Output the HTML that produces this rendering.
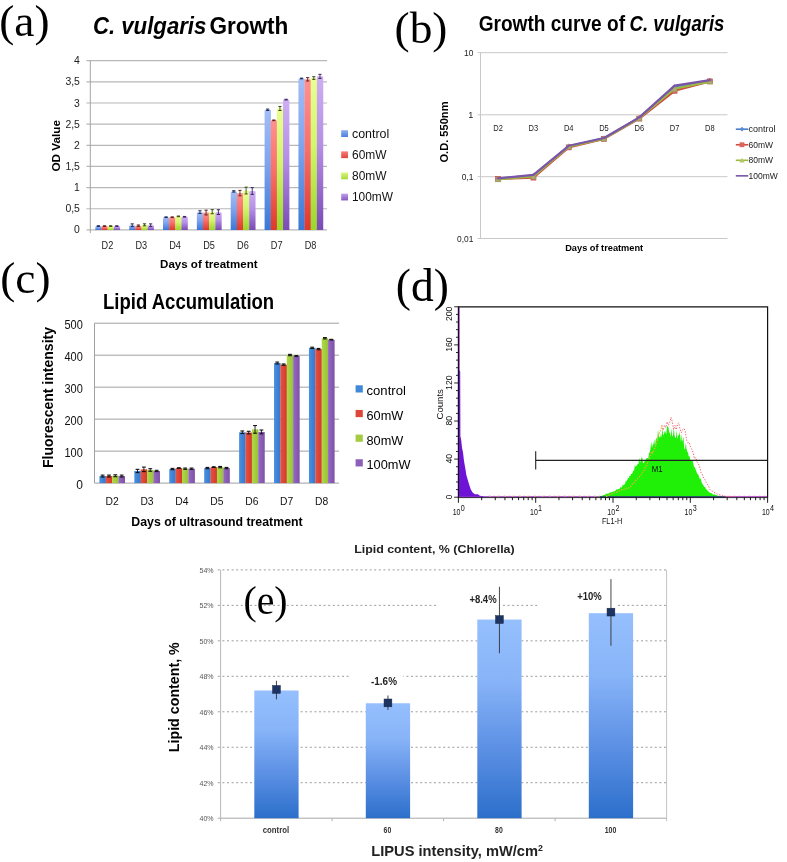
<!DOCTYPE html>
<html><head><meta charset="utf-8"><title>Figure</title>
<style>
html,body{margin:0;padding:0;background:#fff;}
body{width:787px;height:862px;overflow:hidden;font-family:"Liberation Sans", sans-serif;}
svg{display:block;font-family:"Liberation Sans", sans-serif;filter:blur(0.45px);}
.sf{font-family:"Liberation Serif",serif;}
</style></head><body>
<svg width="787" height="862" viewBox="0 0 787 862">
<defs>
<linearGradient id="aB" x1="0" y1="0" x2="0" y2="1"><stop offset="0" stop-color="#a3bdf6"/><stop offset="0.45" stop-color="#7fa4ee"/><stop offset="1" stop-color="#3a78d6"/></linearGradient>
<linearGradient id="aR" x1="0" y1="0" x2="0" y2="1"><stop offset="0" stop-color="#ff9190"/><stop offset="0.45" stop-color="#f9706b"/><stop offset="1" stop-color="#df382c"/></linearGradient>
<linearGradient id="aG" x1="0" y1="0" x2="0" y2="1"><stop offset="0" stop-color="#e9ff92"/><stop offset="0.45" stop-color="#d3f56c"/><stop offset="1" stop-color="#9bd62c"/></linearGradient>
<linearGradient id="aP" x1="0" y1="0" x2="0" y2="1"><stop offset="0" stop-color="#cdaef3"/><stop offset="0.45" stop-color="#b58fe6"/><stop offset="1" stop-color="#7a4bb4"/></linearGradient>
<linearGradient id="cB" x1="0" y1="0" x2="1" y2="0"><stop offset="0" stop-color="#4a90e0"/><stop offset="1" stop-color="#3577cc"/></linearGradient>
<linearGradient id="cR" x1="0" y1="0" x2="1" y2="0"><stop offset="0" stop-color="#e8503f"/><stop offset="1" stop-color="#d23a2c"/></linearGradient>
<linearGradient id="cG" x1="0" y1="0" x2="1" y2="0"><stop offset="0" stop-color="#b0d84a"/><stop offset="1" stop-color="#98c236"/></linearGradient>
<linearGradient id="cP" x1="0" y1="0" x2="1" y2="0"><stop offset="0" stop-color="#9668c2"/><stop offset="1" stop-color="#7e52a8"/></linearGradient>
<linearGradient id="eB" x1="0" y1="0" x2="0" y2="1"><stop offset="0" stop-color="#95bffd"/><stop offset="0.3" stop-color="#88b4f8"/><stop offset="0.62" stop-color="#6093e6"/><stop offset="1" stop-color="#2c6fcb"/></linearGradient>
</defs>
<rect width="787" height="862" fill="#fff"/>

<line x1="86.40" y1="229.90" x2="327.00" y2="229.90" stroke="#b8b8b8" stroke-width="1.2"/>
<text x="79.9" y="233.4" font-size="10.4" fill="#222" text-anchor="end">0</text>
<line x1="86.40" y1="208.75" x2="327.00" y2="208.75" stroke="#b8b8b8" stroke-width="1.2"/>
<text x="79.9" y="212.2" font-size="10.4" fill="#222" text-anchor="end" textLength="14.5" lengthAdjust="spacingAndGlyphs">0,5</text>
<line x1="86.40" y1="187.60" x2="327.00" y2="187.60" stroke="#b8b8b8" stroke-width="1.2"/>
<text x="79.9" y="191.1" font-size="10.4" fill="#222" text-anchor="end">1</text>
<line x1="86.40" y1="166.45" x2="327.00" y2="166.45" stroke="#b8b8b8" stroke-width="1.2"/>
<text x="79.9" y="170.0" font-size="10.4" fill="#222" text-anchor="end" textLength="14.5" lengthAdjust="spacingAndGlyphs">1,5</text>
<line x1="86.40" y1="145.30" x2="327.00" y2="145.30" stroke="#b8b8b8" stroke-width="1.2"/>
<text x="79.9" y="148.8" font-size="10.4" fill="#222" text-anchor="end">2</text>
<line x1="86.40" y1="124.15" x2="327.00" y2="124.15" stroke="#b8b8b8" stroke-width="1.2"/>
<text x="79.9" y="127.7" font-size="10.4" fill="#222" text-anchor="end" textLength="14.5" lengthAdjust="spacingAndGlyphs">2,5</text>
<line x1="86.40" y1="103.00" x2="327.00" y2="103.00" stroke="#b8b8b8" stroke-width="1.2"/>
<text x="79.9" y="106.5" font-size="10.4" fill="#222" text-anchor="end">3</text>
<line x1="86.40" y1="81.85" x2="327.00" y2="81.85" stroke="#b8b8b8" stroke-width="1.2"/>
<text x="79.9" y="85.4" font-size="10.4" fill="#222" text-anchor="end" textLength="14.5" lengthAdjust="spacingAndGlyphs">3,5</text>
<line x1="86.40" y1="60.70" x2="327.00" y2="60.70" stroke="#b8b8b8" stroke-width="1.2"/>
<text x="79.9" y="64.2" font-size="10.4" fill="#222" text-anchor="end">4</text>
<line x1="90.30" y1="60.70" x2="90.30" y2="233.10" stroke="#a4a4a4" stroke-width="1.0"/>
<path d="M95.30,229.90 V227.39 Q95.30,226.09 96.60,226.09 H100.35 Q101.65,226.09 101.65,227.39 V229.90 Z" fill="url(#aB)"/>
<path d="M101.45,229.90 V227.39 Q101.45,226.09 102.75,226.09 H106.50 Q107.80,226.09 107.80,227.39 V229.90 Z" fill="url(#aR)"/>
<path d="M107.60,229.90 V227.39 Q107.60,226.09 108.90,226.09 H112.65 Q113.95,226.09 113.95,227.39 V229.90 Z" fill="url(#aG)"/>
<path d="M113.75,229.90 V227.39 Q113.75,226.09 115.05,226.09 H118.80 Q120.10,226.09 120.10,227.39 V229.90 Z" fill="url(#aP)"/>
<line x1="98.38" y1="225.75" x2="98.38" y2="226.43" stroke="#1a2a58" stroke-width="0.9"/>
<line x1="96.78" y1="225.75" x2="99.97" y2="225.75" stroke="#1a2a58" stroke-width="1.0"/>
<line x1="96.78" y1="226.43" x2="99.97" y2="226.43" stroke="#1a2a58" stroke-width="1.0"/>
<line x1="104.53" y1="225.75" x2="104.53" y2="226.43" stroke="#64201a" stroke-width="0.9"/>
<line x1="102.93" y1="225.75" x2="106.12" y2="225.75" stroke="#64201a" stroke-width="1.0"/>
<line x1="102.93" y1="226.43" x2="106.12" y2="226.43" stroke="#64201a" stroke-width="1.0"/>
<line x1="110.67" y1="225.75" x2="110.67" y2="226.43" stroke="#3a4a16" stroke-width="0.9"/>
<line x1="109.08" y1="225.75" x2="112.27" y2="225.75" stroke="#3a4a16" stroke-width="1.0"/>
<line x1="109.08" y1="226.43" x2="112.27" y2="226.43" stroke="#3a4a16" stroke-width="1.0"/>
<line x1="116.83" y1="225.75" x2="116.83" y2="226.43" stroke="#3a2460" stroke-width="0.9"/>
<line x1="115.23" y1="225.75" x2="118.42" y2="225.75" stroke="#3a2460" stroke-width="1.0"/>
<line x1="115.23" y1="226.43" x2="118.42" y2="226.43" stroke="#3a2460" stroke-width="1.0"/>
<text x="107.4" y="249.2" font-size="10.68" fill="#222" text-anchor="middle" textLength="11.7" lengthAdjust="spacingAndGlyphs">D2</text>
<path d="M129.16,229.90 V226.55 Q129.16,225.25 130.46,225.25 H134.21 Q135.51,225.25 135.51,226.55 V229.90 Z" fill="url(#aB)"/>
<path d="M135.31,229.90 V226.97 Q135.31,225.67 136.61,225.67 H140.36 Q141.66,225.67 141.66,226.97 V229.90 Z" fill="url(#aR)"/>
<path d="M141.46,229.90 V226.12 Q141.46,224.82 142.76,224.82 H146.51 Q147.81,224.82 147.81,226.12 V229.90 Z" fill="url(#aG)"/>
<path d="M147.61,229.90 V226.55 Q147.61,225.25 148.91,225.25 H152.66 Q153.96,225.25 153.96,226.55 V229.90 Z" fill="url(#aP)"/>
<line x1="132.23" y1="223.89" x2="132.23" y2="226.60" stroke="#1a2a58" stroke-width="0.9"/>
<line x1="130.63" y1="223.89" x2="133.83" y2="223.89" stroke="#1a2a58" stroke-width="1.0"/>
<line x1="130.63" y1="226.60" x2="133.83" y2="226.60" stroke="#1a2a58" stroke-width="1.0"/>
<line x1="138.38" y1="224.99" x2="138.38" y2="226.35" stroke="#64201a" stroke-width="0.9"/>
<line x1="136.78" y1="224.99" x2="139.98" y2="224.99" stroke="#64201a" stroke-width="1.0"/>
<line x1="136.78" y1="226.35" x2="139.98" y2="226.35" stroke="#64201a" stroke-width="1.0"/>
<line x1="144.53" y1="223.81" x2="144.53" y2="225.84" stroke="#3a4a16" stroke-width="0.9"/>
<line x1="142.93" y1="223.81" x2="146.13" y2="223.81" stroke="#3a4a16" stroke-width="1.0"/>
<line x1="142.93" y1="225.84" x2="146.13" y2="225.84" stroke="#3a4a16" stroke-width="1.0"/>
<line x1="150.68" y1="223.89" x2="150.68" y2="226.60" stroke="#3a2460" stroke-width="0.9"/>
<line x1="149.08" y1="223.89" x2="152.28" y2="223.89" stroke="#3a2460" stroke-width="1.0"/>
<line x1="149.08" y1="226.60" x2="152.28" y2="226.60" stroke="#3a2460" stroke-width="1.0"/>
<text x="141.3" y="249.2" font-size="10.68" fill="#222" text-anchor="middle" textLength="11.7" lengthAdjust="spacingAndGlyphs">D3</text>
<path d="M163.01,229.90 V218.51 Q163.01,217.21 164.31,217.21 H168.06 Q169.36,217.21 169.36,218.51 V229.90 Z" fill="url(#aB)"/>
<path d="M169.16,229.90 V218.51 Q169.16,217.21 170.46,217.21 H174.21 Q175.51,217.21 175.51,218.51 V229.90 Z" fill="url(#aR)"/>
<path d="M175.31,229.90 V217.66 Q175.31,216.36 176.61,216.36 H180.36 Q181.66,216.36 181.66,217.66 V229.90 Z" fill="url(#aG)"/>
<path d="M181.46,229.90 V218.09 Q181.46,216.79 182.76,216.79 H186.51 Q187.81,216.79 187.81,218.09 V229.90 Z" fill="url(#aP)"/>
<line x1="166.09" y1="216.87" x2="166.09" y2="217.55" stroke="#1a2a58" stroke-width="0.9"/>
<line x1="164.49" y1="216.87" x2="167.69" y2="216.87" stroke="#1a2a58" stroke-width="1.0"/>
<line x1="164.49" y1="217.55" x2="167.69" y2="217.55" stroke="#1a2a58" stroke-width="1.0"/>
<line x1="172.24" y1="216.87" x2="172.24" y2="217.55" stroke="#64201a" stroke-width="0.9"/>
<line x1="170.64" y1="216.87" x2="173.84" y2="216.87" stroke="#64201a" stroke-width="1.0"/>
<line x1="170.64" y1="217.55" x2="173.84" y2="217.55" stroke="#64201a" stroke-width="1.0"/>
<line x1="178.39" y1="216.03" x2="178.39" y2="216.70" stroke="#3a4a16" stroke-width="0.9"/>
<line x1="176.79" y1="216.03" x2="179.99" y2="216.03" stroke="#3a4a16" stroke-width="1.0"/>
<line x1="176.79" y1="216.70" x2="179.99" y2="216.70" stroke="#3a4a16" stroke-width="1.0"/>
<line x1="184.54" y1="216.45" x2="184.54" y2="217.13" stroke="#3a2460" stroke-width="0.9"/>
<line x1="182.94" y1="216.45" x2="186.14" y2="216.45" stroke="#3a2460" stroke-width="1.0"/>
<line x1="182.94" y1="217.13" x2="186.14" y2="217.13" stroke="#3a2460" stroke-width="1.0"/>
<text x="175.1" y="249.2" font-size="10.68" fill="#222" text-anchor="middle" textLength="11.7" lengthAdjust="spacingAndGlyphs">D4</text>
<path d="M196.87,229.90 V213.43 Q196.87,212.13 198.17,212.13 H201.92 Q203.22,212.13 203.22,213.43 V229.90 Z" fill="url(#aB)"/>
<path d="M203.02,229.90 V213.86 Q203.02,212.56 204.32,212.56 H208.07 Q209.37,212.56 209.37,213.86 V229.90 Z" fill="url(#aR)"/>
<path d="M209.17,229.90 V213.01 Q209.17,211.71 210.47,211.71 H214.22 Q215.52,211.71 215.52,213.01 V229.90 Z" fill="url(#aG)"/>
<path d="M215.32,229.90 V213.43 Q215.32,212.13 216.62,212.13 H220.37 Q221.67,212.13 221.67,213.43 V229.90 Z" fill="url(#aP)"/>
<line x1="199.95" y1="210.78" x2="199.95" y2="213.49" stroke="#1a2a58" stroke-width="0.9"/>
<line x1="198.35" y1="210.78" x2="201.55" y2="210.78" stroke="#1a2a58" stroke-width="1.0"/>
<line x1="198.35" y1="213.49" x2="201.55" y2="213.49" stroke="#1a2a58" stroke-width="1.0"/>
<line x1="206.10" y1="210.19" x2="206.10" y2="214.93" stroke="#64201a" stroke-width="0.9"/>
<line x1="204.50" y1="210.19" x2="207.70" y2="210.19" stroke="#64201a" stroke-width="1.0"/>
<line x1="204.50" y1="214.93" x2="207.70" y2="214.93" stroke="#64201a" stroke-width="1.0"/>
<line x1="212.25" y1="209.68" x2="212.25" y2="213.74" stroke="#3a4a16" stroke-width="0.9"/>
<line x1="210.65" y1="209.68" x2="213.85" y2="209.68" stroke="#3a4a16" stroke-width="1.0"/>
<line x1="210.65" y1="213.74" x2="213.85" y2="213.74" stroke="#3a4a16" stroke-width="1.0"/>
<line x1="218.40" y1="209.77" x2="218.40" y2="214.50" stroke="#3a2460" stroke-width="0.9"/>
<line x1="216.80" y1="209.77" x2="220.00" y2="209.77" stroke="#3a2460" stroke-width="1.0"/>
<line x1="216.80" y1="214.50" x2="220.00" y2="214.50" stroke="#3a2460" stroke-width="1.0"/>
<text x="209.0" y="249.2" font-size="10.68" fill="#222" text-anchor="middle" textLength="11.7" lengthAdjust="spacingAndGlyphs">D5</text>
<path d="M230.73,229.90 V192.71 Q230.73,191.41 232.03,191.41 H235.78 Q237.08,191.41 237.08,192.71 V229.90 Z" fill="url(#aB)"/>
<path d="M236.88,229.90 V194.40 Q236.88,193.10 238.18,193.10 H241.93 Q243.23,193.10 243.23,194.40 V229.90 Z" fill="url(#aR)"/>
<path d="M243.03,229.90 V191.86 Q243.03,190.56 244.33,190.56 H248.08 Q249.38,190.56 249.38,191.86 V229.90 Z" fill="url(#aG)"/>
<path d="M249.18,229.90 V192.28 Q249.18,190.98 250.48,190.98 H254.23 Q255.53,190.98 255.53,192.28 V229.90 Z" fill="url(#aP)"/>
<line x1="233.80" y1="190.73" x2="233.80" y2="192.08" stroke="#1a2a58" stroke-width="0.9"/>
<line x1="232.20" y1="190.73" x2="235.40" y2="190.73" stroke="#1a2a58" stroke-width="1.0"/>
<line x1="232.20" y1="192.08" x2="235.40" y2="192.08" stroke="#1a2a58" stroke-width="1.0"/>
<line x1="239.95" y1="190.39" x2="239.95" y2="195.81" stroke="#64201a" stroke-width="0.9"/>
<line x1="238.35" y1="190.39" x2="241.55" y2="190.39" stroke="#64201a" stroke-width="1.0"/>
<line x1="238.35" y1="195.81" x2="241.55" y2="195.81" stroke="#64201a" stroke-width="1.0"/>
<line x1="246.10" y1="187.18" x2="246.10" y2="193.94" stroke="#3a4a16" stroke-width="0.9"/>
<line x1="244.50" y1="187.18" x2="247.70" y2="187.18" stroke="#3a4a16" stroke-width="1.0"/>
<line x1="244.50" y1="193.94" x2="247.70" y2="193.94" stroke="#3a4a16" stroke-width="1.0"/>
<line x1="252.25" y1="187.60" x2="252.25" y2="194.37" stroke="#3a2460" stroke-width="0.9"/>
<line x1="250.65" y1="187.60" x2="253.85" y2="187.60" stroke="#3a2460" stroke-width="1.0"/>
<line x1="250.65" y1="194.37" x2="253.85" y2="194.37" stroke="#3a2460" stroke-width="1.0"/>
<text x="242.9" y="249.2" font-size="10.68" fill="#222" text-anchor="middle" textLength="11.7" lengthAdjust="spacingAndGlyphs">D6</text>
<path d="M264.59,229.90 V111.07 Q264.59,109.77 265.89,109.77 H269.64 Q270.94,109.77 270.94,111.07 V229.90 Z" fill="url(#aB)"/>
<path d="M270.74,229.90 V121.64 Q270.74,120.34 272.04,120.34 H275.79 Q277.09,120.34 277.09,121.64 V229.90 Z" fill="url(#aR)"/>
<path d="M276.89,229.90 V109.80 Q276.89,108.50 278.19,108.50 H281.94 Q283.24,108.50 283.24,109.80 V229.90 Z" fill="url(#aG)"/>
<path d="M283.04,229.90 V100.92 Q283.04,99.62 284.34,99.62 H288.09 Q289.39,99.62 289.39,100.92 V229.90 Z" fill="url(#aP)"/>
<line x1="267.66" y1="109.09" x2="267.66" y2="110.44" stroke="#1a2a58" stroke-width="0.9"/>
<line x1="266.06" y1="109.09" x2="269.26" y2="109.09" stroke="#1a2a58" stroke-width="1.0"/>
<line x1="266.06" y1="110.44" x2="269.26" y2="110.44" stroke="#1a2a58" stroke-width="1.0"/>
<line x1="273.81" y1="120.00" x2="273.81" y2="120.68" stroke="#64201a" stroke-width="0.9"/>
<line x1="272.21" y1="120.00" x2="275.41" y2="120.00" stroke="#64201a" stroke-width="1.0"/>
<line x1="272.21" y1="120.68" x2="275.41" y2="120.68" stroke="#64201a" stroke-width="1.0"/>
<line x1="279.96" y1="106.47" x2="279.96" y2="110.53" stroke="#3a4a16" stroke-width="0.9"/>
<line x1="278.36" y1="106.47" x2="281.56" y2="106.47" stroke="#3a4a16" stroke-width="1.0"/>
<line x1="278.36" y1="110.53" x2="281.56" y2="110.53" stroke="#3a4a16" stroke-width="1.0"/>
<line x1="286.11" y1="99.28" x2="286.11" y2="99.95" stroke="#3a2460" stroke-width="0.9"/>
<line x1="284.51" y1="99.28" x2="287.71" y2="99.28" stroke="#3a2460" stroke-width="1.0"/>
<line x1="284.51" y1="99.95" x2="287.71" y2="99.95" stroke="#3a2460" stroke-width="1.0"/>
<text x="276.7" y="249.2" font-size="10.68" fill="#222" text-anchor="middle" textLength="11.7" lengthAdjust="spacingAndGlyphs">D7</text>
<path d="M298.44,229.90 V79.77 Q298.44,78.47 299.74,78.47 H303.49 Q304.79,78.47 304.79,79.77 V229.90 Z" fill="url(#aB)"/>
<path d="M304.59,229.90 V80.61 Q304.59,79.31 305.89,79.31 H309.64 Q310.94,79.31 310.94,80.61 V229.90 Z" fill="url(#aR)"/>
<path d="M310.74,229.90 V79.34 Q310.74,78.04 312.04,78.04 H315.79 Q317.09,78.04 317.09,79.34 V229.90 Z" fill="url(#aG)"/>
<path d="M316.89,229.90 V77.65 Q316.89,76.35 318.19,76.35 H321.94 Q323.24,76.35 323.24,77.65 V229.90 Z" fill="url(#aP)"/>
<line x1="301.52" y1="78.13" x2="301.52" y2="78.80" stroke="#1a2a58" stroke-width="0.9"/>
<line x1="299.92" y1="78.13" x2="303.12" y2="78.13" stroke="#1a2a58" stroke-width="1.0"/>
<line x1="299.92" y1="78.80" x2="303.12" y2="78.80" stroke="#1a2a58" stroke-width="1.0"/>
<line x1="307.67" y1="77.62" x2="307.67" y2="81.00" stroke="#64201a" stroke-width="0.9"/>
<line x1="306.07" y1="77.62" x2="309.27" y2="77.62" stroke="#64201a" stroke-width="1.0"/>
<line x1="306.07" y1="81.00" x2="309.27" y2="81.00" stroke="#64201a" stroke-width="1.0"/>
<line x1="313.82" y1="76.69" x2="313.82" y2="79.40" stroke="#3a4a16" stroke-width="0.9"/>
<line x1="312.22" y1="76.69" x2="315.42" y2="76.69" stroke="#3a4a16" stroke-width="1.0"/>
<line x1="312.22" y1="79.40" x2="315.42" y2="79.40" stroke="#3a4a16" stroke-width="1.0"/>
<line x1="319.97" y1="74.32" x2="319.97" y2="78.38" stroke="#3a2460" stroke-width="0.9"/>
<line x1="318.37" y1="74.32" x2="321.57" y2="74.32" stroke="#3a2460" stroke-width="1.0"/>
<line x1="318.37" y1="78.38" x2="321.57" y2="78.38" stroke="#3a2460" stroke-width="1.0"/>
<text x="310.6" y="249.2" font-size="10.68" fill="#222" text-anchor="middle" textLength="11.7" lengthAdjust="spacingAndGlyphs">D8</text>
<text x="60.2" y="145.8" font-size="11.77" fill="#000" font-weight="bold" text-anchor="middle" textLength="51.5" lengthAdjust="spacingAndGlyphs" transform="rotate(-90 60.2 145.8)">OD Value</text>
<text x="208.8" y="267.9" font-size="11.45" fill="#000" font-weight="bold" text-anchor="middle" textLength="97.5" lengthAdjust="spacingAndGlyphs">Days of treatment</text>
<linearGradient id="al0" x1="0" y1="0" x2="0" y2="1"><stop offset="0" stop-color="#8fb0f2"/><stop offset="1" stop-color="#4a80d8"/></linearGradient>
<rect x="341.20" y="130.20" width="6.80" height="6.80" fill="url(#al0)"/>
<text x="352.0" y="137.6" font-size="12.54" fill="#111" textLength="37.3" lengthAdjust="spacingAndGlyphs">control</text>
<linearGradient id="al1" x1="0" y1="0" x2="0" y2="1"><stop offset="0" stop-color="#fb7f7b"/><stop offset="1" stop-color="#e0443a"/></linearGradient>
<rect x="341.20" y="151.35" width="6.80" height="6.80" fill="url(#al1)"/>
<text x="352.0" y="158.8" font-size="12.54" fill="#111" textLength="34.5" lengthAdjust="spacingAndGlyphs">60mW</text>
<linearGradient id="al2" x1="0" y1="0" x2="0" y2="1"><stop offset="0" stop-color="#dcf77e"/><stop offset="1" stop-color="#a6d83c"/></linearGradient>
<rect x="341.20" y="172.50" width="6.80" height="6.80" fill="url(#al2)"/>
<text x="352.0" y="179.9" font-size="12.54" fill="#111" textLength="34.5" lengthAdjust="spacingAndGlyphs">80mW</text>
<linearGradient id="al3" x1="0" y1="0" x2="0" y2="1"><stop offset="0" stop-color="#c3a0ee"/><stop offset="1" stop-color="#8458bc"/></linearGradient>
<rect x="341.20" y="193.65" width="6.80" height="6.80" fill="url(#al3)"/>
<text x="352.0" y="201.0" font-size="12.54" fill="#111" textLength="41.0" lengthAdjust="spacingAndGlyphs">100mW</text>
<text x="92.9" y="33.6" font-size="23" font-weight="bold" font-style="italic" textLength="113.5" lengthAdjust="spacingAndGlyphs">C. vulgaris</text>
<text x="209.4" y="33.6" font-size="23" font-weight="bold" textLength="79.0" lengthAdjust="spacingAndGlyphs">Growth</text>
<text x="-0.8" y="35.5" font-size="45.3" fill="#000" class="sf">(a)</text>
<line x1="477.50" y1="52.70" x2="727.50" y2="52.70" stroke="#c8c8c8" stroke-width="1.0"/>
<text x="473.4" y="55.7" font-size="9.16" fill="#222" text-anchor="end" textLength="9.3" lengthAdjust="spacingAndGlyphs">10</text>
<line x1="477.50" y1="114.80" x2="727.50" y2="114.80" stroke="#c8c8c8" stroke-width="1.0"/>
<text x="473.4" y="117.8" font-size="9.16" fill="#222" text-anchor="end">1</text>
<line x1="477.50" y1="176.70" x2="727.50" y2="176.70" stroke="#c8c8c8" stroke-width="1.0"/>
<text x="473.4" y="179.7" font-size="9.16" fill="#222" text-anchor="end" textLength="11.7" lengthAdjust="spacingAndGlyphs">0,1</text>
<line x1="477.50" y1="238.50" x2="727.50" y2="238.50" stroke="#c8c8c8" stroke-width="1.0"/>
<text x="473.4" y="241.5" font-size="9.16" fill="#222" text-anchor="end" textLength="16.3" lengthAdjust="spacingAndGlyphs">0,01</text>
<line x1="480.50" y1="52.70" x2="480.50" y2="238.50" stroke="#c8c8c8" stroke-width="1.0"/>
<text x="498.1" y="130.7" font-size="8.5" fill="#222" text-anchor="middle" textLength="9.6" lengthAdjust="spacingAndGlyphs">D2</text>
<text x="533.4" y="130.7" font-size="8.5" fill="#222" text-anchor="middle" textLength="9.6" lengthAdjust="spacingAndGlyphs">D3</text>
<text x="568.7" y="130.7" font-size="8.5" fill="#222" text-anchor="middle" textLength="9.6" lengthAdjust="spacingAndGlyphs">D4</text>
<text x="604.0" y="130.7" font-size="8.5" fill="#222" text-anchor="middle" textLength="9.6" lengthAdjust="spacingAndGlyphs">D5</text>
<text x="639.3" y="130.7" font-size="8.5" fill="#222" text-anchor="middle" textLength="9.6" lengthAdjust="spacingAndGlyphs">D6</text>
<text x="674.6" y="130.7" font-size="8.5" fill="#222" text-anchor="middle" textLength="9.6" lengthAdjust="spacingAndGlyphs">D7</text>
<text x="709.9" y="130.7" font-size="8.5" fill="#222" text-anchor="middle" textLength="9.6" lengthAdjust="spacingAndGlyphs">D8</text>
<polyline points="498.1,178.6 533.4,175.6 568.7,146.4 604.0,138.4 639.3,117.8 674.6,86.8 709.9,80.6" fill="none" stroke="#4a7ec8" stroke-width="2.2" stroke-linejoin="round" stroke-linecap="round"/>
<path d="M498.1,176.0 l2.6,2.6 l-2.6,2.6 l-2.6,-2.6z" fill="#4a7ec8"/>
<path d="M533.4,173.0 l2.6,2.6 l-2.6,2.6 l-2.6,-2.6z" fill="#4a7ec8"/>
<path d="M568.7,143.8 l2.6,2.6 l-2.6,2.6 l-2.6,-2.6z" fill="#4a7ec8"/>
<path d="M604.0,135.8 l2.6,2.6 l-2.6,2.6 l-2.6,-2.6z" fill="#4a7ec8"/>
<path d="M639.3,115.2 l2.6,2.6 l-2.6,2.6 l-2.6,-2.6z" fill="#4a7ec8"/>
<path d="M674.6,84.2 l2.6,2.6 l-2.6,2.6 l-2.6,-2.6z" fill="#4a7ec8"/>
<path d="M709.9,78.0 l2.6,2.6 l-2.6,2.6 l-2.6,-2.6z" fill="#4a7ec8"/>
<polyline points="498.1,178.9 533.4,177.6 568.7,147.4 604.0,138.9 639.3,118.6 674.6,90.8 709.9,81.4" fill="none" stroke="#d04a40" stroke-width="2.2" stroke-linejoin="round" stroke-linecap="round"/>
<rect x="495.64" y="176.40" width="5.00" height="5.00" fill="#c8786a" stroke="#c0443a" stroke-width="0.6"/>
<rect x="530.93" y="175.10" width="5.00" height="5.00" fill="#c8786a" stroke="#c0443a" stroke-width="0.6"/>
<rect x="566.21" y="144.90" width="5.00" height="5.00" fill="#c8786a" stroke="#c0443a" stroke-width="0.6"/>
<rect x="601.50" y="136.40" width="5.00" height="5.00" fill="#c8786a" stroke="#c0443a" stroke-width="0.6"/>
<rect x="636.79" y="116.10" width="5.00" height="5.00" fill="#c8786a" stroke="#c0443a" stroke-width="0.6"/>
<rect x="672.07" y="88.30" width="5.00" height="5.00" fill="#c8786a" stroke="#c0443a" stroke-width="0.6"/>
<rect x="707.36" y="78.90" width="5.00" height="5.00" fill="#c8786a" stroke="#c0443a" stroke-width="0.6"/>
<polyline points="498.1,179.3 533.4,176.4 568.7,146.6 604.0,138.6 639.3,118.0 674.6,88.6 709.9,81.6" fill="none" stroke="#9ab844" stroke-width="2.2" stroke-linejoin="round" stroke-linecap="round"/>
<path d="M498.1,176.5 l2.8,5.2 l-5.6,0z" fill="#a8ae74" stroke="#98a050" stroke-width="0.5"/>
<path d="M533.4,173.6 l2.8,5.2 l-5.6,0z" fill="#a8ae74" stroke="#98a050" stroke-width="0.5"/>
<path d="M568.7,143.8 l2.8,5.2 l-5.6,0z" fill="#a8ae74" stroke="#98a050" stroke-width="0.5"/>
<path d="M604.0,135.8 l2.8,5.2 l-5.6,0z" fill="#a8ae74" stroke="#98a050" stroke-width="0.5"/>
<path d="M639.3,115.2 l2.8,5.2 l-5.6,0z" fill="#a8ae74" stroke="#98a050" stroke-width="0.5"/>
<path d="M674.6,85.8 l2.8,5.2 l-5.6,0z" fill="#a8ae74" stroke="#98a050" stroke-width="0.5"/>
<path d="M709.9,78.8 l2.8,5.2 l-5.6,0z" fill="#a8ae74" stroke="#98a050" stroke-width="0.5"/>
<polyline points="498.1,178.4 533.4,174.8 568.7,145.8 604.0,138.0 639.3,117.4 674.6,85.6 709.9,80.2" fill="none" stroke="#7a55a8" stroke-width="2.2" stroke-linejoin="round" stroke-linecap="round"/>
<text x="448.1" y="132.0" font-size="10.36" fill="#000" font-weight="bold" text-anchor="middle" textLength="61.0" lengthAdjust="spacingAndGlyphs" transform="rotate(-90 448.1 132.0)">O.D. 550nm</text>
<text x="604.2" y="251.0" font-size="9.8" fill="#000" font-weight="bold" text-anchor="middle" textLength="78.0" lengthAdjust="spacingAndGlyphs">Days of treatment</text>
<line x1="735.80" y1="129.20" x2="748.30" y2="129.20" stroke="#4a7ec8" stroke-width="1.6"/>
<path d="M742.0,126.8 l2.4,2.4 l-2.4,2.4 l-2.4,-2.4z" fill="#5a8ed4"/>
<text x="748.6" y="132.2" font-size="9.37" fill="#222" textLength="27.0" lengthAdjust="spacingAndGlyphs">control</text>
<line x1="735.80" y1="144.75" x2="748.30" y2="144.75" stroke="#d04a40" stroke-width="1.6"/>
<rect x="739.60" y="142.35" width="4.80" height="4.80" fill="#d8665c"/>
<text x="748.6" y="147.8" font-size="9.37" fill="#222" textLength="24.5" lengthAdjust="spacingAndGlyphs">60mW</text>
<line x1="735.80" y1="160.30" x2="748.30" y2="160.30" stroke="#9ab844" stroke-width="1.6"/>
<path d="M742.0,157.7 l2.6,4.8 l-5.2,0z" fill="#b4c86a"/>
<text x="748.6" y="163.3" font-size="9.37" fill="#222" textLength="24.5" lengthAdjust="spacingAndGlyphs">80mW</text>
<line x1="735.80" y1="175.85" x2="748.30" y2="175.85" stroke="#7a55a8" stroke-width="1.6"/>
<text x="748.6" y="178.8" font-size="9.37" fill="#222" textLength="29.3" lengthAdjust="spacingAndGlyphs">100mW</text>
<text x="478.7" y="30.9" font-size="21.5" font-weight="bold" textLength="146.3" lengthAdjust="spacingAndGlyphs">Growth curve of</text>
<text x="629.6" y="30.9" font-size="21.5" font-weight="bold" font-style="italic" textLength="94.8" lengthAdjust="spacingAndGlyphs">C. vulgaris</text>
<text x="394.6" y="42.5" font-size="45.3" fill="#000" class="sf">(b)</text>
<line x1="94.50" y1="483.10" x2="339.00" y2="483.10" stroke="#a0a0a0" stroke-width="1"/>
<text x="82.8" y="489.1" font-size="11.99" fill="#111" text-anchor="end">0</text>
<line x1="94.50" y1="451.12" x2="339.00" y2="451.12" stroke="#a0a0a0" stroke-width="1"/>
<text x="82.8" y="457.1" font-size="11.99" fill="#111" text-anchor="end" textLength="18.3" lengthAdjust="spacingAndGlyphs">100</text>
<line x1="94.50" y1="419.14" x2="339.00" y2="419.14" stroke="#a0a0a0" stroke-width="1"/>
<text x="82.8" y="425.1" font-size="11.99" fill="#111" text-anchor="end" textLength="18.3" lengthAdjust="spacingAndGlyphs">200</text>
<line x1="94.50" y1="387.16" x2="339.00" y2="387.16" stroke="#a0a0a0" stroke-width="1"/>
<text x="82.8" y="393.2" font-size="11.99" fill="#111" text-anchor="end" textLength="18.3" lengthAdjust="spacingAndGlyphs">300</text>
<line x1="94.50" y1="355.18" x2="339.00" y2="355.18" stroke="#a0a0a0" stroke-width="1"/>
<text x="82.8" y="361.2" font-size="11.99" fill="#111" text-anchor="end" textLength="18.3" lengthAdjust="spacingAndGlyphs">400</text>
<line x1="94.50" y1="323.20" x2="339.00" y2="323.20" stroke="#a0a0a0" stroke-width="1"/>
<text x="82.8" y="329.2" font-size="11.99" fill="#111" text-anchor="end" textLength="18.3" lengthAdjust="spacingAndGlyphs">500</text>
<line x1="94.50" y1="323.20" x2="94.50" y2="483.10" stroke="#a0a0a0" stroke-width="1"/>
<rect x="99.40" y="476.06" width="6.52" height="7.04" fill="url(#cB)"/>
<rect x="105.77" y="476.06" width="6.52" height="7.04" fill="url(#cR)"/>
<rect x="112.14" y="475.74" width="6.52" height="7.36" fill="url(#cG)"/>
<rect x="118.51" y="476.06" width="6.52" height="7.04" fill="url(#cP)"/>
<line x1="102.59" y1="475.11" x2="102.59" y2="477.02" stroke="#111" stroke-width="0.9"/>
<line x1="100.69" y1="475.11" x2="104.49" y2="475.11" stroke="#111" stroke-width="1.1"/>
<line x1="100.69" y1="477.02" x2="104.49" y2="477.02" stroke="#111" stroke-width="1.1"/>
<line x1="108.96" y1="475.11" x2="108.96" y2="477.02" stroke="#111" stroke-width="0.9"/>
<line x1="107.06" y1="475.11" x2="110.86" y2="475.11" stroke="#111" stroke-width="1.1"/>
<line x1="107.06" y1="477.02" x2="110.86" y2="477.02" stroke="#111" stroke-width="1.1"/>
<line x1="115.33" y1="474.79" x2="115.33" y2="476.70" stroke="#111" stroke-width="0.9"/>
<line x1="113.42" y1="474.79" x2="117.23" y2="474.79" stroke="#111" stroke-width="1.1"/>
<line x1="113.42" y1="476.70" x2="117.23" y2="476.70" stroke="#111" stroke-width="1.1"/>
<line x1="121.70" y1="475.11" x2="121.70" y2="477.02" stroke="#111" stroke-width="0.9"/>
<line x1="119.80" y1="475.11" x2="123.60" y2="475.11" stroke="#111" stroke-width="1.1"/>
<line x1="119.80" y1="477.02" x2="123.60" y2="477.02" stroke="#111" stroke-width="1.1"/>
<text x="112.1" y="504.9" font-size="11.77" fill="#111" text-anchor="middle" textLength="13.2" lengthAdjust="spacingAndGlyphs">D2</text>
<rect x="134.33" y="470.95" width="6.52" height="12.15" fill="url(#cB)"/>
<rect x="140.70" y="469.35" width="6.52" height="13.75" fill="url(#cR)"/>
<rect x="147.07" y="469.99" width="6.52" height="13.11" fill="url(#cG)"/>
<rect x="153.44" y="470.95" width="6.52" height="12.15" fill="url(#cP)"/>
<line x1="137.51" y1="469.35" x2="137.51" y2="472.55" stroke="#111" stroke-width="0.9"/>
<line x1="135.61" y1="469.35" x2="139.41" y2="469.35" stroke="#111" stroke-width="1.1"/>
<line x1="135.61" y1="472.55" x2="139.41" y2="472.55" stroke="#111" stroke-width="1.1"/>
<line x1="143.88" y1="467.11" x2="143.88" y2="471.59" stroke="#111" stroke-width="0.9"/>
<line x1="141.98" y1="467.11" x2="145.78" y2="467.11" stroke="#111" stroke-width="1.1"/>
<line x1="141.98" y1="471.59" x2="145.78" y2="471.59" stroke="#111" stroke-width="1.1"/>
<line x1="150.25" y1="468.71" x2="150.25" y2="471.27" stroke="#111" stroke-width="0.9"/>
<line x1="148.35" y1="468.71" x2="152.15" y2="468.71" stroke="#111" stroke-width="1.1"/>
<line x1="148.35" y1="471.27" x2="152.15" y2="471.27" stroke="#111" stroke-width="1.1"/>
<line x1="156.62" y1="470.31" x2="156.62" y2="471.59" stroke="#111" stroke-width="0.9"/>
<line x1="154.72" y1="470.31" x2="158.52" y2="470.31" stroke="#111" stroke-width="1.1"/>
<line x1="154.72" y1="471.59" x2="158.52" y2="471.59" stroke="#111" stroke-width="1.1"/>
<text x="147.0" y="504.9" font-size="11.77" fill="#111" text-anchor="middle" textLength="13.2" lengthAdjust="spacingAndGlyphs">D3</text>
<rect x="169.26" y="469.03" width="6.52" height="14.07" fill="url(#cB)"/>
<rect x="175.63" y="468.07" width="6.52" height="15.03" fill="url(#cR)"/>
<rect x="182.00" y="468.71" width="6.52" height="14.39" fill="url(#cG)"/>
<rect x="188.37" y="468.71" width="6.52" height="14.39" fill="url(#cP)"/>
<line x1="172.44" y1="468.39" x2="172.44" y2="469.67" stroke="#111" stroke-width="0.9"/>
<line x1="170.54" y1="468.39" x2="174.34" y2="468.39" stroke="#111" stroke-width="1.1"/>
<line x1="170.54" y1="469.67" x2="174.34" y2="469.67" stroke="#111" stroke-width="1.1"/>
<line x1="178.81" y1="467.75" x2="178.81" y2="468.39" stroke="#111" stroke-width="0.9"/>
<line x1="176.91" y1="467.75" x2="180.71" y2="467.75" stroke="#111" stroke-width="1.1"/>
<line x1="176.91" y1="468.39" x2="180.71" y2="468.39" stroke="#111" stroke-width="1.1"/>
<line x1="185.18" y1="468.07" x2="185.18" y2="469.35" stroke="#111" stroke-width="0.9"/>
<line x1="183.28" y1="468.07" x2="187.08" y2="468.07" stroke="#111" stroke-width="1.1"/>
<line x1="183.28" y1="469.35" x2="187.08" y2="469.35" stroke="#111" stroke-width="1.1"/>
<line x1="191.55" y1="468.07" x2="191.55" y2="469.35" stroke="#111" stroke-width="0.9"/>
<line x1="189.65" y1="468.07" x2="193.45" y2="468.07" stroke="#111" stroke-width="1.1"/>
<line x1="189.65" y1="469.35" x2="193.45" y2="469.35" stroke="#111" stroke-width="1.1"/>
<text x="181.9" y="504.9" font-size="11.77" fill="#111" text-anchor="middle" textLength="13.2" lengthAdjust="spacingAndGlyphs">D4</text>
<rect x="204.19" y="468.07" width="6.52" height="15.03" fill="url(#cB)"/>
<rect x="210.56" y="467.11" width="6.52" height="15.99" fill="url(#cR)"/>
<rect x="216.93" y="467.11" width="6.52" height="15.99" fill="url(#cG)"/>
<rect x="223.30" y="468.07" width="6.52" height="15.03" fill="url(#cP)"/>
<line x1="207.37" y1="467.43" x2="207.37" y2="468.71" stroke="#111" stroke-width="0.9"/>
<line x1="205.47" y1="467.43" x2="209.27" y2="467.43" stroke="#111" stroke-width="1.1"/>
<line x1="205.47" y1="468.71" x2="209.27" y2="468.71" stroke="#111" stroke-width="1.1"/>
<line x1="213.74" y1="466.79" x2="213.74" y2="467.43" stroke="#111" stroke-width="0.9"/>
<line x1="211.84" y1="466.79" x2="215.64" y2="466.79" stroke="#111" stroke-width="1.1"/>
<line x1="211.84" y1="467.43" x2="215.64" y2="467.43" stroke="#111" stroke-width="1.1"/>
<line x1="220.11" y1="466.47" x2="220.11" y2="467.75" stroke="#111" stroke-width="0.9"/>
<line x1="218.21" y1="466.47" x2="222.01" y2="466.47" stroke="#111" stroke-width="1.1"/>
<line x1="218.21" y1="467.75" x2="222.01" y2="467.75" stroke="#111" stroke-width="1.1"/>
<line x1="226.48" y1="467.43" x2="226.48" y2="468.71" stroke="#111" stroke-width="0.9"/>
<line x1="224.58" y1="467.43" x2="228.38" y2="467.43" stroke="#111" stroke-width="1.1"/>
<line x1="224.58" y1="468.71" x2="228.38" y2="468.71" stroke="#111" stroke-width="1.1"/>
<text x="216.8" y="504.9" font-size="11.77" fill="#111" text-anchor="middle" textLength="13.2" lengthAdjust="spacingAndGlyphs">D5</text>
<rect x="239.11" y="432.25" width="6.52" height="50.85" fill="url(#cB)"/>
<rect x="245.48" y="432.57" width="6.52" height="50.53" fill="url(#cR)"/>
<rect x="251.85" y="429.37" width="6.52" height="53.73" fill="url(#cG)"/>
<rect x="258.22" y="431.93" width="6.52" height="51.17" fill="url(#cP)"/>
<line x1="242.30" y1="430.97" x2="242.30" y2="433.53" stroke="#111" stroke-width="0.9"/>
<line x1="240.40" y1="430.97" x2="244.20" y2="430.97" stroke="#111" stroke-width="1.1"/>
<line x1="240.40" y1="433.53" x2="244.20" y2="433.53" stroke="#111" stroke-width="1.1"/>
<line x1="248.67" y1="431.29" x2="248.67" y2="433.85" stroke="#111" stroke-width="0.9"/>
<line x1="246.77" y1="431.29" x2="250.57" y2="431.29" stroke="#111" stroke-width="1.1"/>
<line x1="246.77" y1="433.85" x2="250.57" y2="433.85" stroke="#111" stroke-width="1.1"/>
<line x1="255.04" y1="425.54" x2="255.04" y2="433.21" stroke="#111" stroke-width="0.9"/>
<line x1="253.14" y1="425.54" x2="256.94" y2="425.54" stroke="#111" stroke-width="1.1"/>
<line x1="253.14" y1="433.21" x2="256.94" y2="433.21" stroke="#111" stroke-width="1.1"/>
<line x1="261.41" y1="430.01" x2="261.41" y2="433.85" stroke="#111" stroke-width="0.9"/>
<line x1="259.51" y1="430.01" x2="263.31" y2="430.01" stroke="#111" stroke-width="1.1"/>
<line x1="259.51" y1="433.85" x2="263.31" y2="433.85" stroke="#111" stroke-width="1.1"/>
<text x="251.8" y="504.9" font-size="11.77" fill="#111" text-anchor="middle" textLength="13.2" lengthAdjust="spacingAndGlyphs">D6</text>
<rect x="274.04" y="363.02" width="6.52" height="120.08" fill="url(#cB)"/>
<rect x="280.41" y="364.61" width="6.52" height="118.49" fill="url(#cR)"/>
<rect x="286.78" y="355.02" width="6.52" height="128.08" fill="url(#cG)"/>
<rect x="293.15" y="355.98" width="6.52" height="127.12" fill="url(#cP)"/>
<line x1="277.23" y1="362.06" x2="277.23" y2="363.97" stroke="#111" stroke-width="0.9"/>
<line x1="275.33" y1="362.06" x2="279.13" y2="362.06" stroke="#111" stroke-width="1.1"/>
<line x1="275.33" y1="363.97" x2="279.13" y2="363.97" stroke="#111" stroke-width="1.1"/>
<line x1="283.60" y1="363.97" x2="283.60" y2="365.25" stroke="#111" stroke-width="0.9"/>
<line x1="281.70" y1="363.97" x2="285.50" y2="363.97" stroke="#111" stroke-width="1.1"/>
<line x1="281.70" y1="365.25" x2="285.50" y2="365.25" stroke="#111" stroke-width="1.1"/>
<line x1="289.97" y1="354.38" x2="289.97" y2="355.66" stroke="#111" stroke-width="0.9"/>
<line x1="288.07" y1="354.38" x2="291.87" y2="354.38" stroke="#111" stroke-width="1.1"/>
<line x1="288.07" y1="355.66" x2="291.87" y2="355.66" stroke="#111" stroke-width="1.1"/>
<line x1="296.34" y1="355.66" x2="296.34" y2="356.30" stroke="#111" stroke-width="0.9"/>
<line x1="294.44" y1="355.66" x2="298.24" y2="355.66" stroke="#111" stroke-width="1.1"/>
<line x1="294.44" y1="356.30" x2="298.24" y2="356.30" stroke="#111" stroke-width="1.1"/>
<text x="286.7" y="504.9" font-size="11.77" fill="#111" text-anchor="middle" textLength="13.2" lengthAdjust="spacingAndGlyphs">D7</text>
<rect x="308.97" y="347.82" width="6.52" height="135.28" fill="url(#cB)"/>
<rect x="315.34" y="349.10" width="6.52" height="134.00" fill="url(#cR)"/>
<rect x="321.71" y="338.23" width="6.52" height="144.87" fill="url(#cG)"/>
<rect x="328.08" y="339.67" width="6.52" height="143.43" fill="url(#cP)"/>
<line x1="312.16" y1="347.18" x2="312.16" y2="348.46" stroke="#111" stroke-width="0.9"/>
<line x1="310.26" y1="347.18" x2="314.06" y2="347.18" stroke="#111" stroke-width="1.1"/>
<line x1="310.26" y1="348.46" x2="314.06" y2="348.46" stroke="#111" stroke-width="1.1"/>
<line x1="318.53" y1="348.46" x2="318.53" y2="349.74" stroke="#111" stroke-width="0.9"/>
<line x1="316.63" y1="348.46" x2="320.43" y2="348.46" stroke="#111" stroke-width="1.1"/>
<line x1="316.63" y1="349.74" x2="320.43" y2="349.74" stroke="#111" stroke-width="1.1"/>
<line x1="324.90" y1="337.59" x2="324.90" y2="338.87" stroke="#111" stroke-width="0.9"/>
<line x1="323.00" y1="337.59" x2="326.80" y2="337.59" stroke="#111" stroke-width="1.1"/>
<line x1="323.00" y1="338.87" x2="326.80" y2="338.87" stroke="#111" stroke-width="1.1"/>
<line x1="331.27" y1="339.35" x2="331.27" y2="339.99" stroke="#111" stroke-width="0.9"/>
<line x1="329.37" y1="339.35" x2="333.17" y2="339.35" stroke="#111" stroke-width="1.1"/>
<line x1="329.37" y1="339.99" x2="333.17" y2="339.99" stroke="#111" stroke-width="1.1"/>
<text x="321.6" y="504.9" font-size="11.77" fill="#111" text-anchor="middle" textLength="13.2" lengthAdjust="spacingAndGlyphs">D8</text>
<text x="52.9" y="397.5" font-size="14.72" fill="#000" font-weight="bold" text-anchor="middle" textLength="141.0" lengthAdjust="spacingAndGlyphs" transform="rotate(-90 52.9 397.5)">Fluorescent intensity</text>
<text x="217.0" y="525.7" font-size="13.63" fill="#000" font-weight="bold" text-anchor="middle" textLength="171.3" lengthAdjust="spacingAndGlyphs">Days of ultrasound treatment</text>
<rect x="355.60" y="385.30" width="7.20" height="7.20" fill="#4088d8"/>
<text x="366.5" y="395.2" font-size="13.63" fill="#000" textLength="39.4" lengthAdjust="spacingAndGlyphs">control</text>
<rect x="355.60" y="409.95" width="7.20" height="7.20" fill="#de4638"/>
<text x="366.5" y="419.8" font-size="13.63" fill="#000" textLength="36.8" lengthAdjust="spacingAndGlyphs">60mW</text>
<rect x="355.60" y="434.60" width="7.20" height="7.20" fill="#a4cc40"/>
<text x="366.5" y="444.5" font-size="13.63" fill="#000" textLength="36.8" lengthAdjust="spacingAndGlyphs">80mW</text>
<rect x="355.60" y="459.25" width="7.20" height="7.20" fill="#8c60b8"/>
<text x="366.5" y="469.1" font-size="13.63" fill="#000" textLength="44.0" lengthAdjust="spacingAndGlyphs">100mW</text>
<text x="103.0" y="309.4" font-size="21.26" fill="#000" font-weight="bold" textLength="171.2" lengthAdjust="spacingAndGlyphs">Lipid Accumulation</text>
<text x="0.2" y="293.4" font-size="45.3" fill="#000" class="sf">(c)</text>
<polygon points="458.4,497.2 458.4,307.3 459.3,307.3 459.4,369.6 460.2,371.5 460.4,436.3 461.2,440.1 462.0,447.7 463.0,452.5 464.0,461.0 465.2,467.7 466.4,475.3 467.8,480.1 469.2,484.8 470.8,489.6 472.6,492.4 474.9,494.3 477.9,494.2 479.9,495.7 483.4,496.2 483.4,497.2" fill="#6e14d6"/>
<line x1="459.00" y1="307.30" x2="459.00" y2="369.63" stroke="#b030e0" stroke-width="1.2"/>
<line x1="458.40" y1="496.90" x2="767.60" y2="496.90" stroke="#8a2fd0" stroke-width="1.3"/>
<line x1="488.4" y1="496.3" x2="767.6" y2="496.3" stroke="#e85aa0" stroke-width="0.9" stroke-dasharray="2 3"/>
<line x1="489.4" y1="496.2" x2="603.0" y2="496.2" stroke="#a6e040" stroke-width="0.8" stroke-dasharray="1.5 6"/>
<polygon points="598.0,497.2 598.0,497.0 598.8,496.8 599.5,496.5 600.2,496.3 601.0,496.1 601.8,495.8 602.5,495.7 603.2,495.2 604.0,495.1 604.8,494.7 605.5,494.2 606.2,493.8 607.0,493.7 607.8,493.8 608.5,493.4 609.2,493.0 610.0,492.5 610.8,492.3 611.5,492.2 612.2,492.0 613.0,491.5 613.8,491.4 614.5,491.0 615.2,490.9 616.0,490.0 616.8,489.0 617.5,489.7 618.2,489.1 619.0,488.9 619.8,488.4 620.5,486.8 621.2,487.7 622.0,487.0 622.8,484.3 623.5,485.4 624.2,484.6 625.0,484.2 625.8,480.5 626.5,481.6 627.2,480.0 628.0,477.9 628.8,478.3 629.5,475.7 630.2,476.2 631.0,473.9 631.8,474.1 632.5,473.0 633.2,470.4 634.0,471.0 634.8,465.2 635.5,466.5 636.2,466.5 637.0,464.6 637.8,464.2 638.5,463.8 639.2,457.5 640.0,462.8 640.8,460.5 641.5,457.4 642.2,457.5 643.0,462.4 643.8,463.5 644.5,461.2 645.2,460.8 646.0,458.9 646.8,458.0 647.5,457.7 648.2,458.9 649.0,453.2 649.8,452.1 650.5,448.6 651.2,441.2 652.0,447.9 652.8,444.4 653.5,444.3 654.2,439.0 655.0,446.1 655.8,439.5 656.5,437.2 657.2,441.6 658.0,429.8 658.8,435.4 659.5,437.6 660.2,437.2 661.0,433.3 661.8,437.7 662.5,426.9 663.2,435.6 664.0,434.0 664.8,430.7 665.5,432.0 666.2,434.4 667.0,426.9 667.8,425.7 668.5,427.7 669.2,432.6 670.0,432.7 670.8,437.1 671.5,428.0 672.2,436.6 673.0,435.7 673.8,427.5 674.5,435.2 675.2,437.5 676.0,437.9 676.8,430.0 677.5,439.5 678.2,434.9 679.0,435.5 679.8,431.2 680.5,441.8 681.2,433.7 682.0,442.1 682.8,439.8 683.5,437.1 684.2,448.4 685.0,449.5 685.8,442.8 686.5,448.7 687.2,451.8 688.0,452.4 688.8,456.7 689.5,455.8 690.2,459.7 691.0,461.2 691.8,460.9 692.5,460.3 693.2,462.8 694.0,467.0 694.8,467.3 695.5,469.3 696.2,470.8 697.0,473.3 697.8,474.2 698.5,475.0 699.2,477.3 700.0,479.5 700.8,478.3 701.5,482.1 702.2,483.7 703.0,484.5 703.8,486.3 704.5,487.2 705.2,486.7 706.0,489.4 706.8,489.3 707.5,490.8 708.2,491.2 709.0,492.0 709.8,492.6 710.5,493.0 711.2,493.2 712.0,493.3 712.8,494.4 713.5,494.4 714.2,494.2 715.0,494.8 715.8,495.0 716.5,495.2 717.2,495.4 718.0,495.7 718.8,495.9 719.5,496.1 720.2,496.2 721.0,496.3 721.8,496.3 722.5,496.5 723.2,496.5 724.0,496.6 724.8,496.7 725.5,496.8 726.2,496.8 727.0,496.9 727.8,497.0 728.0,497.2" fill="#20f008"/>
<line x1="600.00" y1="497.00" x2="726.00" y2="497.00" stroke="#2c2a86" stroke-width="1.3"/>
<polyline points="606.0,496.4 607.3,495.9 608.6,495.4 609.9,494.8 611.2,494.3 612.5,493.8 613.8,493.0 615.1,492.7 616.4,492.3 617.7,492.0 619.0,490.9 620.3,490.6 621.6,489.9 622.9,490.0 624.2,489.4 625.5,488.1 626.8,488.7 628.1,488.2 629.4,487.2 630.7,486.6 632.0,484.5 633.3,482.9 634.6,482.6 635.9,480.2 637.2,479.1 638.5,477.9 639.8,475.8 641.1,474.7 642.4,472.3 643.7,471.6 645.0,468.1 646.3,466.3 647.6,462.7 648.9,460.4 650.2,456.1 651.5,451.6 652.8,453.0 654.1,450.1 655.4,446.5 656.7,443.0 658.0,437.0 659.3,433.0 660.6,430.4 661.9,425.5" fill="none" stroke="#e8b23c" stroke-width="1.2" stroke-dasharray="1.4 1.3"/>
<polyline points="661.9,425.5 663.2,430.2 664.5,425.3 665.8,427.7 667.1,421.8 668.4,425.3 669.7,422.5 671.0,417.3 672.3,421.6 673.6,429.6 674.9,425.4 676.2,429.7 677.5,424.2 678.8,422.8 680.1,429.6 681.4,432.7 682.7,429.5 684.0,428.5 685.3,431.4 686.6,440.2 687.9,442.8 689.2,442.5 690.5,446.9 691.8,449.4 693.1,452.4 694.4,458.8 695.7,457.6 697.0,461.7 698.3,463.5 699.6,466.4 700.9,472.4 702.2,473.9 703.5,478.0 704.8,479.3 706.1,482.4 707.4,484.2 708.7,486.5 710.0,489.5 711.3,490.8 712.6,491.2 713.9,492.5 715.2,492.9 716.5,493.7 717.8,494.4 719.1,494.7 720.4,495.0 721.7,495.6 723.0,495.9 724.3,496.1 725.6,496.3 726.9,496.3 728.2,496.4 729.5,496.6 730.8,496.7 732.1,496.7 733.4,496.7" fill="none" stroke="#f2626c" stroke-width="1.0" stroke-dasharray="1.3 1.5"/>
<path d="M458.4,497.2 V306.8 H767.6 V497.2" fill="none" stroke="#111" stroke-width="1.2"/>
<line x1="457.90" y1="497.60" x2="768.10" y2="497.60" stroke="#222" stroke-width="0.9"/>
<line x1="454.20" y1="497.20" x2="458.40" y2="497.20" stroke="#111" stroke-width="0.9"/>
<line x1="456.00" y1="489.58" x2="458.40" y2="489.58" stroke="#111" stroke-width="0.9"/>
<line x1="456.00" y1="481.97" x2="458.40" y2="481.97" stroke="#111" stroke-width="0.9"/>
<line x1="456.00" y1="474.35" x2="458.40" y2="474.35" stroke="#111" stroke-width="0.9"/>
<line x1="456.00" y1="466.74" x2="458.40" y2="466.74" stroke="#111" stroke-width="0.9"/>
<line x1="454.20" y1="459.12" x2="458.40" y2="459.12" stroke="#111" stroke-width="0.9"/>
<line x1="456.00" y1="451.50" x2="458.40" y2="451.50" stroke="#111" stroke-width="0.9"/>
<line x1="456.00" y1="443.89" x2="458.40" y2="443.89" stroke="#111" stroke-width="0.9"/>
<line x1="456.00" y1="436.27" x2="458.40" y2="436.27" stroke="#111" stroke-width="0.9"/>
<line x1="456.00" y1="428.66" x2="458.40" y2="428.66" stroke="#111" stroke-width="0.9"/>
<line x1="454.20" y1="421.04" x2="458.40" y2="421.04" stroke="#111" stroke-width="0.9"/>
<line x1="456.00" y1="413.42" x2="458.40" y2="413.42" stroke="#111" stroke-width="0.9"/>
<line x1="456.00" y1="405.81" x2="458.40" y2="405.81" stroke="#111" stroke-width="0.9"/>
<line x1="456.00" y1="398.19" x2="458.40" y2="398.19" stroke="#111" stroke-width="0.9"/>
<line x1="456.00" y1="390.58" x2="458.40" y2="390.58" stroke="#111" stroke-width="0.9"/>
<line x1="454.20" y1="382.96" x2="458.40" y2="382.96" stroke="#111" stroke-width="0.9"/>
<line x1="456.00" y1="375.34" x2="458.40" y2="375.34" stroke="#111" stroke-width="0.9"/>
<line x1="456.00" y1="367.73" x2="458.40" y2="367.73" stroke="#111" stroke-width="0.9"/>
<line x1="456.00" y1="360.11" x2="458.40" y2="360.11" stroke="#111" stroke-width="0.9"/>
<line x1="456.00" y1="352.50" x2="458.40" y2="352.50" stroke="#111" stroke-width="0.9"/>
<line x1="454.20" y1="344.88" x2="458.40" y2="344.88" stroke="#111" stroke-width="0.9"/>
<line x1="456.00" y1="337.26" x2="458.40" y2="337.26" stroke="#111" stroke-width="0.9"/>
<line x1="456.00" y1="329.65" x2="458.40" y2="329.65" stroke="#111" stroke-width="0.9"/>
<line x1="456.00" y1="322.03" x2="458.40" y2="322.03" stroke="#111" stroke-width="0.9"/>
<line x1="456.00" y1="314.42" x2="458.40" y2="314.42" stroke="#111" stroke-width="0.9"/>
<line x1="454.20" y1="306.80" x2="458.40" y2="306.80" stroke="#111" stroke-width="0.9"/>
<text x="451.7" y="496.9" font-size="8.4" fill="#111" text-anchor="middle" transform="rotate(-90 451.7 496.9)">0</text>
<text x="451.7" y="458.8" font-size="8.4" fill="#111" text-anchor="middle" textLength="9.6" lengthAdjust="spacingAndGlyphs" transform="rotate(-90 451.7 458.8)">40</text>
<text x="451.7" y="420.7" font-size="8.4" fill="#111" text-anchor="middle" textLength="9.6" lengthAdjust="spacingAndGlyphs" transform="rotate(-90 451.7 420.7)">80</text>
<text x="451.7" y="382.7" font-size="8.4" fill="#111" text-anchor="middle" textLength="14.4" lengthAdjust="spacingAndGlyphs" transform="rotate(-90 451.7 382.7)">120</text>
<text x="451.7" y="344.6" font-size="8.4" fill="#111" text-anchor="middle" textLength="14.4" lengthAdjust="spacingAndGlyphs" transform="rotate(-90 451.7 344.6)">160</text>
<text x="451.7" y="306.6" font-size="8.4" fill="#111" text-anchor="end" textLength="14.4" lengthAdjust="spacingAndGlyphs" transform="rotate(-90 451.7 306.6)">200</text>
<text x="443.0" y="404.3" font-size="9.0" fill="#111" text-anchor="middle" textLength="30.4" lengthAdjust="spacingAndGlyphs" transform="rotate(-90 443.0 404.3)">Counts</text>
<line x1="458.40" y1="497.20" x2="458.40" y2="502.80" stroke="#111" stroke-width="0.95"/>
<line x1="481.67" y1="497.20" x2="481.67" y2="500.20" stroke="#111" stroke-width="0.95"/>
<line x1="495.28" y1="497.20" x2="495.28" y2="500.20" stroke="#111" stroke-width="0.95"/>
<line x1="504.94" y1="497.20" x2="504.94" y2="500.20" stroke="#111" stroke-width="0.95"/>
<line x1="512.43" y1="497.20" x2="512.43" y2="500.20" stroke="#111" stroke-width="0.95"/>
<line x1="518.55" y1="497.20" x2="518.55" y2="500.20" stroke="#111" stroke-width="0.95"/>
<line x1="523.73" y1="497.20" x2="523.73" y2="500.20" stroke="#111" stroke-width="0.95"/>
<line x1="528.21" y1="497.20" x2="528.21" y2="500.20" stroke="#111" stroke-width="0.95"/>
<line x1="532.16" y1="497.20" x2="532.16" y2="500.20" stroke="#111" stroke-width="0.95"/>
<line x1="535.70" y1="497.20" x2="535.70" y2="502.80" stroke="#111" stroke-width="0.95"/>
<line x1="558.97" y1="497.20" x2="558.97" y2="500.20" stroke="#111" stroke-width="0.95"/>
<line x1="572.58" y1="497.20" x2="572.58" y2="500.20" stroke="#111" stroke-width="0.95"/>
<line x1="582.24" y1="497.20" x2="582.24" y2="500.20" stroke="#111" stroke-width="0.95"/>
<line x1="589.73" y1="497.20" x2="589.73" y2="500.20" stroke="#111" stroke-width="0.95"/>
<line x1="595.85" y1="497.20" x2="595.85" y2="500.20" stroke="#111" stroke-width="0.95"/>
<line x1="601.03" y1="497.20" x2="601.03" y2="500.20" stroke="#111" stroke-width="0.95"/>
<line x1="605.51" y1="497.20" x2="605.51" y2="500.20" stroke="#111" stroke-width="0.95"/>
<line x1="609.46" y1="497.20" x2="609.46" y2="500.20" stroke="#111" stroke-width="0.95"/>
<line x1="613.00" y1="497.20" x2="613.00" y2="502.80" stroke="#111" stroke-width="0.95"/>
<line x1="636.27" y1="497.20" x2="636.27" y2="500.20" stroke="#111" stroke-width="0.95"/>
<line x1="649.88" y1="497.20" x2="649.88" y2="500.20" stroke="#111" stroke-width="0.95"/>
<line x1="659.54" y1="497.20" x2="659.54" y2="500.20" stroke="#111" stroke-width="0.95"/>
<line x1="667.03" y1="497.20" x2="667.03" y2="500.20" stroke="#111" stroke-width="0.95"/>
<line x1="673.15" y1="497.20" x2="673.15" y2="500.20" stroke="#111" stroke-width="0.95"/>
<line x1="678.33" y1="497.20" x2="678.33" y2="500.20" stroke="#111" stroke-width="0.95"/>
<line x1="682.81" y1="497.20" x2="682.81" y2="500.20" stroke="#111" stroke-width="0.95"/>
<line x1="686.76" y1="497.20" x2="686.76" y2="500.20" stroke="#111" stroke-width="0.95"/>
<line x1="690.30" y1="497.20" x2="690.30" y2="502.80" stroke="#111" stroke-width="0.95"/>
<line x1="713.57" y1="497.20" x2="713.57" y2="500.20" stroke="#111" stroke-width="0.95"/>
<line x1="727.18" y1="497.20" x2="727.18" y2="500.20" stroke="#111" stroke-width="0.95"/>
<line x1="736.84" y1="497.20" x2="736.84" y2="500.20" stroke="#111" stroke-width="0.95"/>
<line x1="744.33" y1="497.20" x2="744.33" y2="500.20" stroke="#111" stroke-width="0.95"/>
<line x1="750.45" y1="497.20" x2="750.45" y2="500.20" stroke="#111" stroke-width="0.95"/>
<line x1="755.63" y1="497.20" x2="755.63" y2="500.20" stroke="#111" stroke-width="0.95"/>
<line x1="760.11" y1="497.20" x2="760.11" y2="500.20" stroke="#111" stroke-width="0.95"/>
<line x1="764.06" y1="497.20" x2="764.06" y2="500.20" stroke="#111" stroke-width="0.95"/>
<line x1="767.60" y1="497.20" x2="767.60" y2="502.80" stroke="#111" stroke-width="0.95"/>
<text x="456.6" y="515.4" font-size="9.2" fill="#111" text-anchor="middle" textLength="7.8" lengthAdjust="spacingAndGlyphs">10</text>
<text x="460.8" y="511.2" font-size="8.6" fill="#111" textLength="4.0" lengthAdjust="spacingAndGlyphs">0</text>
<text x="533.9" y="515.4" font-size="9.2" fill="#111" text-anchor="middle" textLength="7.8" lengthAdjust="spacingAndGlyphs">10</text>
<text x="538.1" y="511.2" font-size="8.6" fill="#111" textLength="4.0" lengthAdjust="spacingAndGlyphs">1</text>
<text x="611.2" y="515.4" font-size="9.2" fill="#111" text-anchor="middle" textLength="7.8" lengthAdjust="spacingAndGlyphs">10</text>
<text x="615.4" y="511.2" font-size="8.6" fill="#111" textLength="4.0" lengthAdjust="spacingAndGlyphs">2</text>
<text x="688.5" y="515.4" font-size="9.2" fill="#111" text-anchor="middle" textLength="7.8" lengthAdjust="spacingAndGlyphs">10</text>
<text x="692.7" y="511.2" font-size="8.6" fill="#111" textLength="4.0" lengthAdjust="spacingAndGlyphs">3</text>
<text x="765.8" y="515.4" font-size="9.2" fill="#111" text-anchor="middle" textLength="7.8" lengthAdjust="spacingAndGlyphs">10</text>
<text x="770.0" y="511.2" font-size="8.6" fill="#111" textLength="4.0" lengthAdjust="spacingAndGlyphs">4</text>
<text x="601.9" y="524.0" font-size="8.2" fill="#111" textLength="20.3" lengthAdjust="spacingAndGlyphs">FL1-H</text>
<line x1="535.70" y1="460.40" x2="767.60" y2="460.40" stroke="#222" stroke-width="1.1"/>
<line x1="535.70" y1="451.30" x2="535.70" y2="469.50" stroke="#222" stroke-width="1.1"/>
<text x="651.8" y="471.8" font-size="8.61" fill="#111" textLength="10.8" lengthAdjust="spacingAndGlyphs">M1</text>
<text x="395.8" y="301.2" font-size="45.5" fill="#000" class="sf">(d)</text>
<line x1="217.80" y1="818.20" x2="220.60" y2="818.20" stroke="#a8a8a8" stroke-width="1"/>
<text x="213.6" y="821.2" font-size="7.2" fill="#555" text-anchor="end" textLength="14.1" lengthAdjust="spacingAndGlyphs">40%</text>
<line x1="217.8" y1="782.73" x2="666.6" y2="782.73" stroke="#9c9c9c" stroke-width="1" stroke-dasharray="2 2.6"/>
<text x="213.6" y="785.7" font-size="7.2" fill="#555" text-anchor="end" textLength="14.1" lengthAdjust="spacingAndGlyphs">42%</text>
<line x1="217.8" y1="747.26" x2="666.6" y2="747.26" stroke="#9c9c9c" stroke-width="1" stroke-dasharray="2 2.6"/>
<text x="213.6" y="750.3" font-size="7.2" fill="#555" text-anchor="end" textLength="14.1" lengthAdjust="spacingAndGlyphs">44%</text>
<line x1="217.8" y1="711.79" x2="666.6" y2="711.79" stroke="#9c9c9c" stroke-width="1" stroke-dasharray="2 2.6"/>
<text x="213.6" y="714.8" font-size="7.2" fill="#555" text-anchor="end" textLength="14.1" lengthAdjust="spacingAndGlyphs">46%</text>
<line x1="217.8" y1="676.31" x2="666.6" y2="676.31" stroke="#9c9c9c" stroke-width="1" stroke-dasharray="2 2.6"/>
<text x="213.6" y="679.3" font-size="7.2" fill="#555" text-anchor="end" textLength="14.1" lengthAdjust="spacingAndGlyphs">48%</text>
<line x1="217.8" y1="640.84" x2="666.6" y2="640.84" stroke="#9c9c9c" stroke-width="1" stroke-dasharray="2 2.6"/>
<text x="213.6" y="643.8" font-size="7.2" fill="#555" text-anchor="end" textLength="14.1" lengthAdjust="spacingAndGlyphs">50%</text>
<line x1="217.8" y1="605.37" x2="666.6" y2="605.37" stroke="#9c9c9c" stroke-width="1" stroke-dasharray="2 2.6"/>
<text x="213.6" y="608.4" font-size="7.2" fill="#555" text-anchor="end" textLength="14.1" lengthAdjust="spacingAndGlyphs">52%</text>
<line x1="217.8" y1="569.90" x2="666.6" y2="569.90" stroke="#9c9c9c" stroke-width="1" stroke-dasharray="2 2.6"/>
<text x="213.6" y="572.9" font-size="7.2" fill="#555" text-anchor="end" textLength="14.1" lengthAdjust="spacingAndGlyphs">54%</text>
<line x1="220.60" y1="569.90" x2="220.60" y2="821.20" stroke="#b8b8b8" stroke-width="1"/>
<line x1="666.6" y1="569.9" x2="666.6" y2="821.2" stroke="#c4c4c4" stroke-width="1"/>
<line x1="220.60" y1="818.20" x2="666.60" y2="818.20" stroke="#a8a8a8" stroke-width="1"/>
<line x1="332.10" y1="818.20" x2="332.10" y2="821.20" stroke="#b0b0b0" stroke-width="1"/>
<line x1="443.60" y1="818.20" x2="443.60" y2="821.20" stroke="#b0b0b0" stroke-width="1"/>
<line x1="555.10" y1="818.20" x2="555.10" y2="821.20" stroke="#b0b0b0" stroke-width="1"/>
<rect x="350.00" y="672.00" width="53.20" height="9.00" fill="#fff"/>
<rect x="436.60" y="600.00" width="64.20" height="9.00" fill="#fff"/>
<rect x="539.20" y="600.00" width="77.60" height="9.00" fill="#fff"/>
<rect x="254.30" y="690.50" width="44.30" height="127.70" fill="url(#eB)"/>
<line x1="276.45" y1="680.75" x2="276.45" y2="699.37" stroke="#333" stroke-width="0.9"/>
<rect x="272.55" y="685.54" width="7.80" height="7.80" fill="#1d3362" stroke="#142448" stroke-width="0.5"/>
<text x="275.9" y="832.9" font-size="8.61" fill="#333" font-weight="bold" text-anchor="middle" textLength="26.3" lengthAdjust="spacingAndGlyphs">control</text>
<rect x="365.80" y="703.27" width="44.30" height="114.93" fill="url(#eB)"/>
<line x1="387.95" y1="695.47" x2="387.95" y2="710.01" stroke="#333" stroke-width="0.9"/>
<rect x="384.05" y="699.02" width="7.80" height="7.80" fill="#1d3362" stroke="#142448" stroke-width="0.5"/>
<text x="387.4" y="832.9" font-size="8.61" fill="#333" font-weight="bold" text-anchor="middle" textLength="7.6" lengthAdjust="spacingAndGlyphs">60</text>
<rect x="477.30" y="619.56" width="44.30" height="198.64" fill="url(#eB)"/>
<line x1="499.45" y1="586.75" x2="499.45" y2="653.26" stroke="#333" stroke-width="0.9"/>
<rect x="495.55" y="615.66" width="7.80" height="7.80" fill="#1d3362" stroke="#142448" stroke-width="0.5"/>
<text x="498.9" y="832.9" font-size="8.61" fill="#333" font-weight="bold" text-anchor="middle" textLength="7.6" lengthAdjust="spacingAndGlyphs">80</text>
<rect x="588.80" y="613.18" width="44.30" height="205.02" fill="url(#eB)"/>
<line x1="610.95" y1="579.12" x2="610.95" y2="645.81" stroke="#333" stroke-width="0.9"/>
<rect x="607.05" y="608.21" width="7.80" height="7.80" fill="#1d3362" stroke="#142448" stroke-width="0.5"/>
<text x="610.5" y="832.9" font-size="8.61" fill="#333" font-weight="bold" text-anchor="middle" textLength="11.6" lengthAdjust="spacingAndGlyphs">100</text>
<text x="384.0" y="685.0" font-size="10.03" fill="#222" font-weight="bold" text-anchor="middle" textLength="26.0" lengthAdjust="spacingAndGlyphs">-1.6%</text>
<text x="483.0" y="602.8" font-size="10.03" fill="#222" font-weight="bold" text-anchor="middle" textLength="27.2" lengthAdjust="spacingAndGlyphs">+8.4%</text>
<text x="589.5" y="599.6" font-size="10.03" fill="#222" font-weight="bold" text-anchor="middle" textLength="24.6" lengthAdjust="spacingAndGlyphs">+10%</text>
<text x="178.6" y="697.2" font-size="14" fill="#000" font-weight="bold" text-anchor="middle" textLength="110.0" lengthAdjust="spacingAndGlyphs" transform="rotate(-90 178.6 697.2)">Lipid content, %</text>
<text x="434.4" y="552.8" font-size="11.55" fill="#222" font-weight="bold" text-anchor="middle" textLength="160.5" lengthAdjust="spacingAndGlyphs">Lipid content, % (Chlorella)</text>
<text x="371.3" y="855.6" font-size="14.4" font-weight="bold" fill="#222" textLength="171.6" lengthAdjust="spacingAndGlyphs">LIPUS intensity, mW/cm<tspan font-size="8.6" dy="-4.6">2</tspan></text>
<text x="243.4" y="613.8" font-size="39.8" fill="#000" class="sf">(e)</text>
</svg></body></html>
